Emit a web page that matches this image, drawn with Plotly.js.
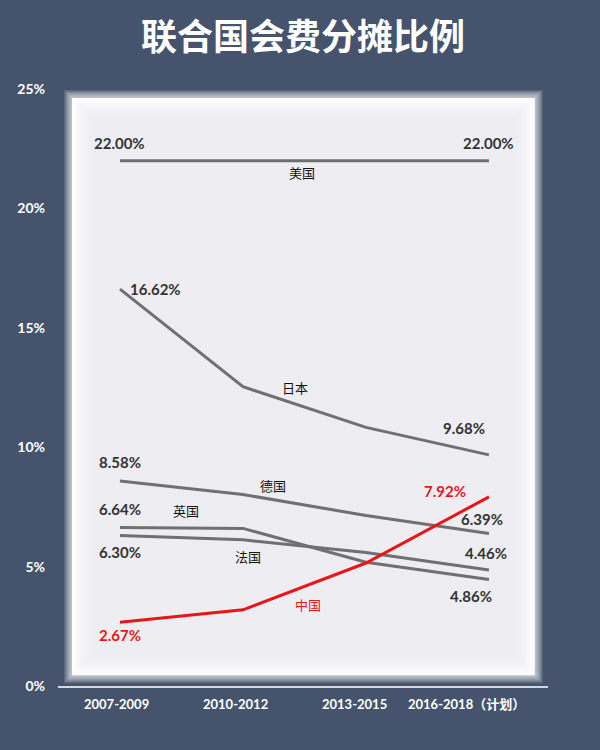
<!DOCTYPE html>
<html>
<head>
<meta charset="utf-8">
<script src="https://cdn.plot.ly/plotly-3.0.1.min.js"></script>
<style>html,body{margin:0;padding:0;background:#45546c;}#chart{width:600px;height:750px;}</style>
</head>
<body>
<div id="chart"></div>
<script>
const categories = ['2007-2009', '2010-2012', '2013-2015', '2016-2018（计划）'];
const usa     = [22.00, 22.00, 22.00, 22.00];
const japan   = [16.62, 12.53, 10.83, 9.68];
const germany = [8.58, 8.02, 7.14, 6.39];
const uk      = [6.64, 6.60, 5.18, 4.46];
const france  = [6.30, 6.12, 5.59, 4.86];
const china   = [2.67, 3.19, 5.15, 7.92];
const seriesNames = ['美国', '日本', '德国', '英国', '法国', '中国'];
const yTickVals = [0, 5, 10, 15, 20, 25];
const yTickText = ['0%', '5%', '10%', '15%', '20%', '25%'];

const GREY = '#707070', RED = '#e8161b';
const BG = '#45546c';
const xIdx = categories.map((c, i) => i);
const allSeries = [usa, japan, germany, uk, france, china];
const colors = [GREY, GREY, GREY, GREY, GREY, RED];

const traces = allSeries.map((s, k) => ({
  type: 'scatter', mode: 'lines', x: xIdx, y: s, name: seriesNames[k],
  line: {color: colors[k], width: 3}, hoverinfo: 'skip'
}));

const numFont = {family: 'Lato, "Open Sans", sans-serif', size: 15, color: '#333333', weight: 'bold'};
const cnFont = {family: '"Noto Sans CJK SC", sans-serif', size: 13, color: '#111111'};
const fmt = v => v.toFixed(2) + '%';
const ann = [];
function valLabel(s, i, dx, dy, color) {
  ann.push({x: i, y: s[i], xref: 'x', yref: 'y', text: fmt(s[i]), showarrow: false,
    xshift: dx, yshift: dy, font: Object.assign({}, numFont, color ? {color: color} : {})});
}
valLabel(usa, 0, 0, 18); valLabel(usa, 3, 0, 18);
valLabel(japan, 0, 36, 0); valLabel(japan, 3, -25, 27);
valLabel(germany, 0, 0, 19); valLabel(germany, 3, -7, 14);
valLabel(uk, 0, 0, 18); valLabel(uk, 3, -3, 27);
valLabel(france, 0, 0, -16); valLabel(france, 3, -18, -26);
valLabel(china, 0, 0, -13, RED); valLabel(china, 3, -44, 6, RED);

// series name labels
const namePos = [[1.48, 21.52], [1.42, 12.52], [1.24, 8.38], [0.54, 7.37], [1.04, 5.44], [1.53, 3.43]];
seriesNames.forEach((n, k) => {
  ann.push({x: namePos[k][0], y: namePos[k][1], xref: 'x', yref: 'y', text: n, showarrow: false,
    font: Object.assign({}, cnFont, k === 5 ? {color: RED} : {})});
});

// x category labels
categories.forEach((c, i) => {
  ann.push({x: i, y: 0, xref: 'x', yref: 'y', text: c, showarrow: false, yshift: -18,
    xshift: -3 - i * 4 - (i === 3 ? 7 : 0),
    font: {family: 'Lato, "Noto Sans CJK SC", sans-serif', size: 13, color: '#ffffff', weight: 'bold'}});
});

// panel with soft glow
const shapes = [];
const px0 = 0.0286, px1 = 0.973, py0 = 0.018, py1 = 0.985;
const ex = 1 / 490, ey = 1 / 597;
[8, 7, 6, 5, 4, 3, 2, 1].forEach(d => {
  shapes.push({type: 'rect', xref: 'paper', yref: 'paper', layer: 'below',
    x0: px0 - d * ex, x1: px1 + d * ex, y0: py0 - d * ey, y1: py1 + d * ey,
    fillcolor: 'rgba(255,255,255,0.12)', line: {width: 0}});
});
shapes.push({type: 'rect', xref: 'paper', yref: 'paper', layer: 'below',
  x0: px0, x1: px1, y0: py0, y1: py1, fillcolor: '#ffffff', line: {width: 0}});
[2, 4, 6, 8, 10, 12, 14, 16, 18, 20].forEach(d => {
  shapes.push({type: 'rect', xref: 'paper', yref: 'paper', layer: 'below',
    x0: px0 + d * ex, x1: px1 - d * ex, y0: py0 + d * ey, y1: py1 - d * ey,
    fillcolor: 'rgba(234,237,241,0.15)', line: {width: 0}});
});

const layout = {
  width: 600, height: 750,
  paper_bgcolor: BG, plot_bgcolor: 'rgba(0,0,0,0)',
  margin: {l: 58, r: 52, t: 89, b: 64},
  showlegend: false,
  title: {text: '联合国会费分摊比例', x: 0.5, xref: 'paper', xanchor: 'center', y: 0.95, yref: 'container', yanchor: 'middle',
    font: {family: '"Noto Sans CJK SC", sans-serif', size: 36, color: '#ffffff', weight: 'bold'}},
  xaxis: {range: [-0.504, 3.48], showgrid: false, zeroline: false, showticklabels: false,
    showline: true, linecolor: '#d4d8df', linewidth: 1.5, fixedrange: true},
  yaxis: {range: [0, 25], showgrid: false, zeroline: false, showline: false,
    tickvals: yTickVals, ticktext: yTickText, ticks: '', ticklabelstandoff: 12,
    tickfont: {family: 'Lato, sans-serif', size: 14, color: '#ffffff', weight: 'bold'}, fixedrange: true},
  annotations: ann,
  shapes: shapes
};

Plotly.newPlot('chart', traces, layout, {staticPlot: true, displayModeBar: false});
</script>
</body>
</html>
